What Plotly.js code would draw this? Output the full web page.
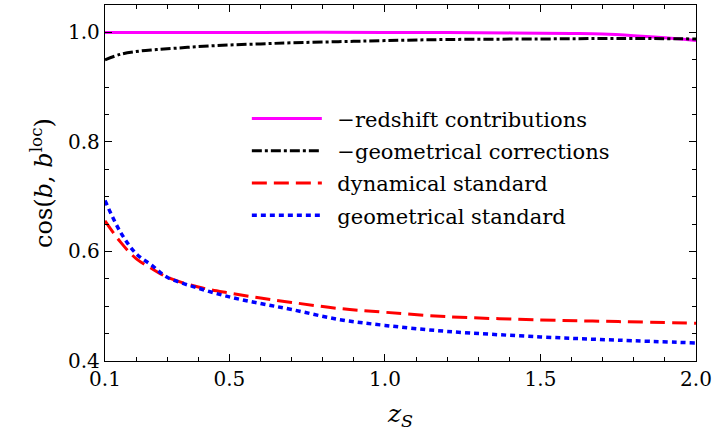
<!DOCTYPE html>
<html>
<head>
<meta charset="utf-8">
<script src="https://cdn.plot.ly/plotly-3.0.1.min.js"></script>
<style>html,body{margin:0;padding:0;background:#fff;}#chart{width:717px;height:437px;}</style>
</head>
<body>
<div id="chart"></div>
<script>
const zS = [0.1, 0.15, 0.2, 0.25, 0.3, 0.4, 0.5, 0.6, 0.7, 0.85, 1.0, 1.2, 1.5, 1.75, 2.0];
const redshiftZ = [0.1, 0.3, 0.6, 1.0, 1.3, 1.6, 1.7, 1.8, 1.9, 2.0];
const redshiftContrib = [1.0, 1.0, 1.0, 1.0, 0.9995, 0.998, 0.997, 0.994, 0.990, 0.985];
const geomCorrections = [0.950, 0.960, 0.965, 0.968, 0.970, 0.974, 0.977, 0.979, 0.981, 0.983, 0.985, 0.987, 0.988, 0.989, 0.988];
const dynStandard = [0.656, 0.617, 0.587, 0.569, 0.553, 0.535, 0.524, 0.515, 0.507, 0.496, 0.489, 0.481, 0.475, 0.472, 0.469];
const geomStandard = [0.693, 0.635, 0.596, 0.575, 0.553, 0.533, 0.517, 0.505, 0.494, 0.476, 0.465, 0.454, 0.444, 0.438, 0.433];
const xTicks = [0.1, 0.5, 1.0, 1.5, 2.0];
const xTickText = ['0.1', '0.5', '1.0', '1.5', '2.0'];
const yTicks = [0.4, 0.6, 0.8, 1.0];
const yTickText = ['0.4', '0.6', '0.8', '1.0'];

const FONT = 'DejaVu Serif';
const GAP = '\u2002';
const traces = [
  {x: redshiftZ, y: redshiftContrib, name: GAP + '\u2212redshift contributions', mode: 'lines', legendgroup: 'a',
   line: {color: '#ff00ff', width: 3, shape: 'spline'}},
  {x: zS, y: geomCorrections, name: GAP + '\u2212geometrical corrections', mode: 'lines', legendgroup: 'b',
   line: {color: '#000000', width: 3, dash: '10px,3px,3px,3px', shape: 'spline'}},
  {x: zS, y: dynStandard, name: GAP + 'dynamical standard', mode: 'lines', legendgroup: 'c',
   line: {color: '#ff0000', width: 3, dash: '15px,7px', shape: 'spline'}},
  {x: zS, y: geomStandard, name: GAP + 'geometrical standard', mode: 'lines', legendgroup: 'd',
   line: {color: '#0000ff', width: 3.5, dash: '5px,4px', shape: 'spline'}}
];
const axisCommon = {
  showgrid: false, zeroline: false, showline: true, linecolor: '#000', linewidth: 1.2,
  mirror: 'ticks', ticks: 'inside', ticklen: 7, tickwidth: 1, tickcolor: '#000',
  tickfont: {family: FONT, size: 20, color: '#000'}
};
const layout = {
  width: 717, height: 437,
  margin: {l: 105, r: 21, t: 5, b: 76},
  paper_bgcolor: '#fff', plot_bgcolor: '#fff',
  font: {family: FONT, color: '#000'},
  showlegend: true,
  legend: {x: 0.24, y: 0.738, xanchor: 'left', yanchor: 'top', bgcolor: 'rgba(0,0,0,0)',
    font: {family: FONT, size: 21, color: '#000'}, itemwidth: 70,
    traceorder: 'grouped', tracegroupgap: 2},
  xaxis: Object.assign({}, axisCommon, {
    range: [0.1, 2.0], tickvals: xTicks, ticktext: xTickText,
    minor: {dtick: 0.1, tick0: 0, ticks: 'inside', ticklen: 4, tickcolor: '#000'},
    title: {text: '<i>z<sub>S</sub></i>', font: {family: FONT, size: 25, color: '#000'}, standoff: 14}
  }),
  yaxis: Object.assign({}, axisCommon, {
    range: [0.4, 1.05], tickvals: yTicks, ticktext: yTickText,
    minor: {dtick: 0.05, tick0: 0, ticks: 'inside', ticklen: 4, tickcolor: '#000'},
    title: {text: 'cos(<i>b</i>, <i>b</i><sup>loc</sup>)', font: {family: FONT, size: 24, color: '#000'}, standoff: 8}
  })
};
Plotly.newPlot('chart', traces, layout, {staticPlot: true});
</script>
</body>
</html>
